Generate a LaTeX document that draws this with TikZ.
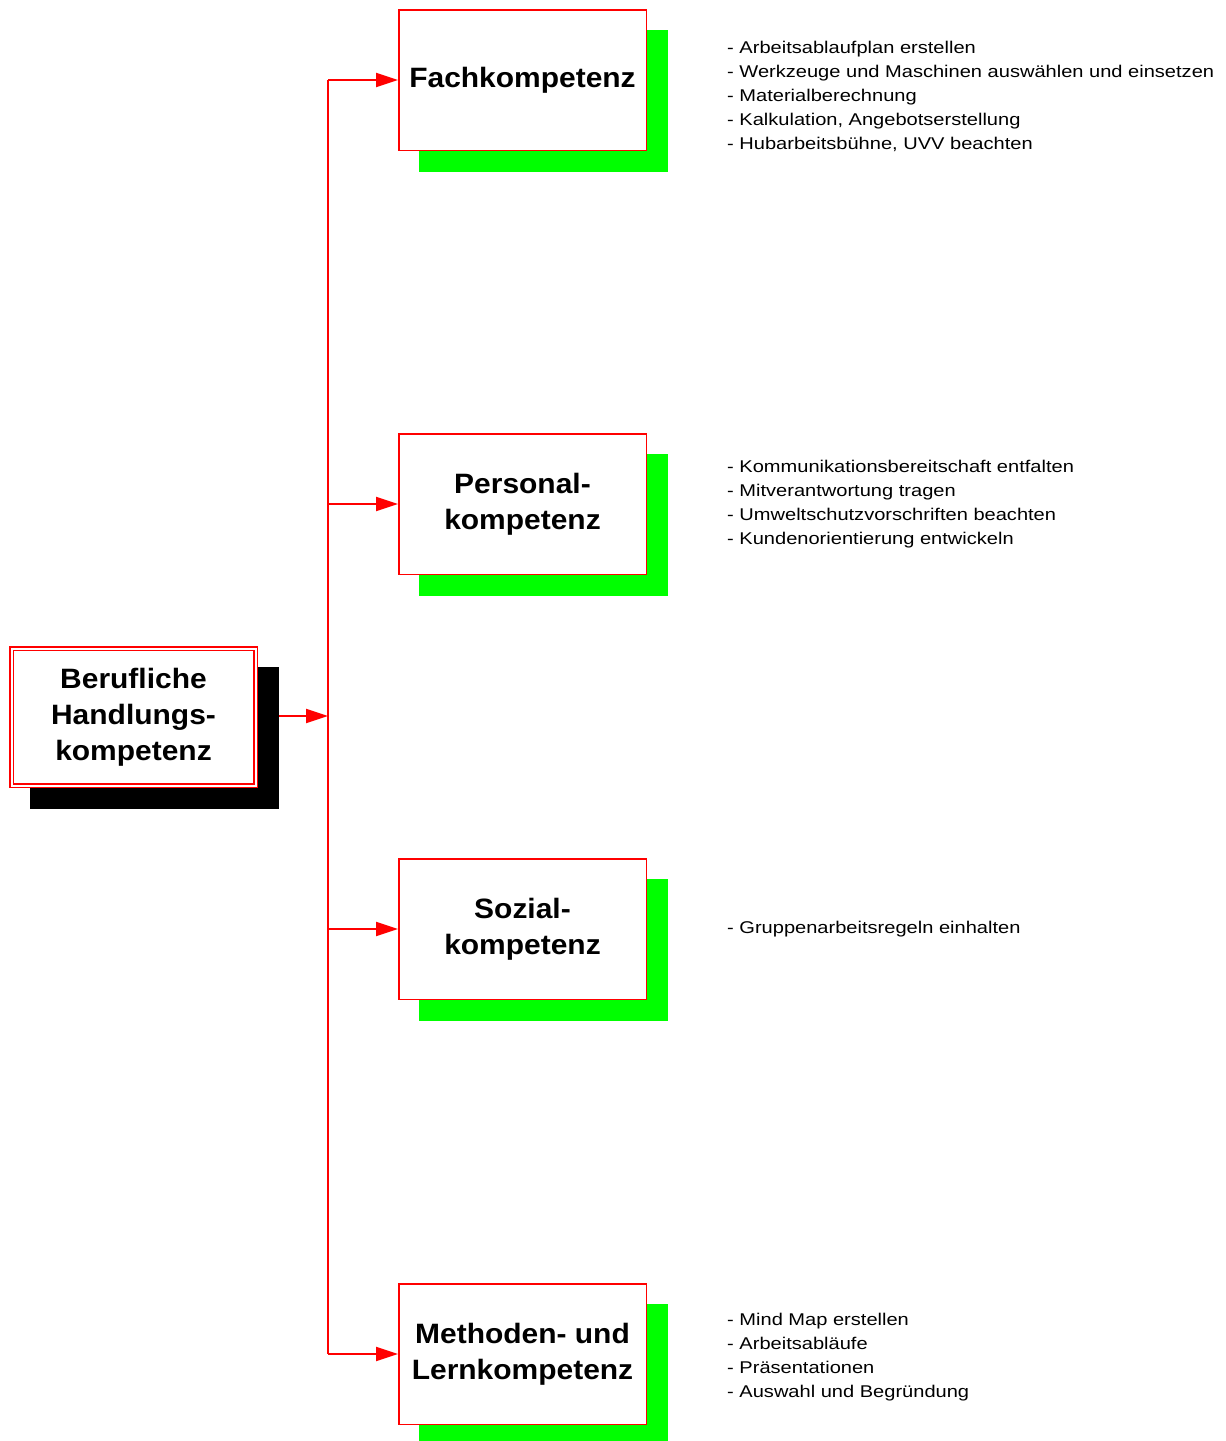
\documentclass[tikz,border=0pt]{standalone}
\usepackage{fontspec}
\setmainfont{Liberation Sans}
\newfontfamily\listfont[FakeStretch=1.18]{Liberation Sans}
\newfontfamily\boxfont[FakeStretch=1.07]{Liberation Sans}
\usetikzlibrary{arrows.meta}

\begin{document}
\begin{tikzpicture}[x=1pt,y=-1pt]
                \tikzstyle{shade}=[rectangle, minimum width=249pt, minimum height=142pt, inner sep=0pt]
                \tikzstyle{kbox}=[rectangle, draw=red, fill=white, line width=1.5pt, minimum width=247.5pt, minimum height=140.5pt, inner sep=0pt, align=center, font=\boxfont\fontsize{28}{36}\selectfont\bfseries]
                \tikzstyle{mainbox}=[kbox, line width=1.5pt, double=white, double distance=2pt, minimum width=244pt, minimum height=137pt]
                \tikzstyle{items}=[anchor=west, align=left, inner sep=0pt, font=\listfont\fontsize{17}{24}\selectfont]
                \tikzstyle{edge} = [draw=red, line width=2pt, -{Triangle[length=22pt,width=14pt]}]

                \clip (0,0) rectangle (1226,1441);

                % shadows
                \node[shade, fill=black] (hk-sh) at (154.5,738) {};
                \node[shade, fill=green] (fach-sh) at (543.5,101) {};
                \node[shade, fill=green] (personal-sh) at (543.5,525) {};
                \node[shade, fill=green] (sozial-sh) at (543.5,950) {};
                \node[shade, fill=green] (methoden-sh) at (543.5,1375) {};

                \node[mainbox] (hk) at (133.5,717) {\raisebox{-2pt}{\parbox{240pt}{\centering Berufliche\\Handlungs-\\kompetenz}}};
                \node[kbox] (fach) at (522.5,80) {\raisebox{-2pt}{Fachkompetenz}};
                \node[kbox] (personal) at (522.5,504) {\raisebox{-2pt}{\parbox{240pt}{\centering Personal-\\kompetenz}}};
                \node[kbox] (sozial) at (522.5,929) {\raisebox{-2pt}{\parbox{240pt}{\centering Sozial-\\kompetenz}}};
                \node[kbox] (methoden) at (522.5,1354) {\raisebox{-2pt}{\parbox{240pt}{\centering Methoden- und\\Lernkompetenz}}};

                \coordinate (t) at (328,716);
                \path[edge] (hk-sh.east |- t) -- (t);
                \draw[red, line width=2pt] (t |- fach.west) -- (t |- methoden.west);
                \foreach \dest in {fach, personal, sozial, methoden}
                \path[edge] (t |- \dest.west) -- (\dest.west);

                \node[items] (fachlist) at (727,96) {- Arbeitsablaufplan erstellen\\- Werkzeuge und Maschinen auswählen und einsetzen\\- Materialberechnung\\- Kalkulation, Angebotserstellung\\- Hubarbeitsbühne, UVV beachten};
                \node[items] (personallist) at (727,504) {- Kommunikationsbereitschaft entfalten\\- Mitverantwortung tragen\\- Umweltschutzvorschriften beachten\\- Kundenorientierung entwickeln};
                \node[items] (soziallist) at (727,929) {- Gruppenarbeitsregeln einhalten};
                \node[items] (methodenlist) at (727,1357) {- Mind Map erstellen\\- Arbeitsabläufe\\- Präsentationen\\- Auswahl und Begründung};
            \end{tikzpicture}
\end{document}
